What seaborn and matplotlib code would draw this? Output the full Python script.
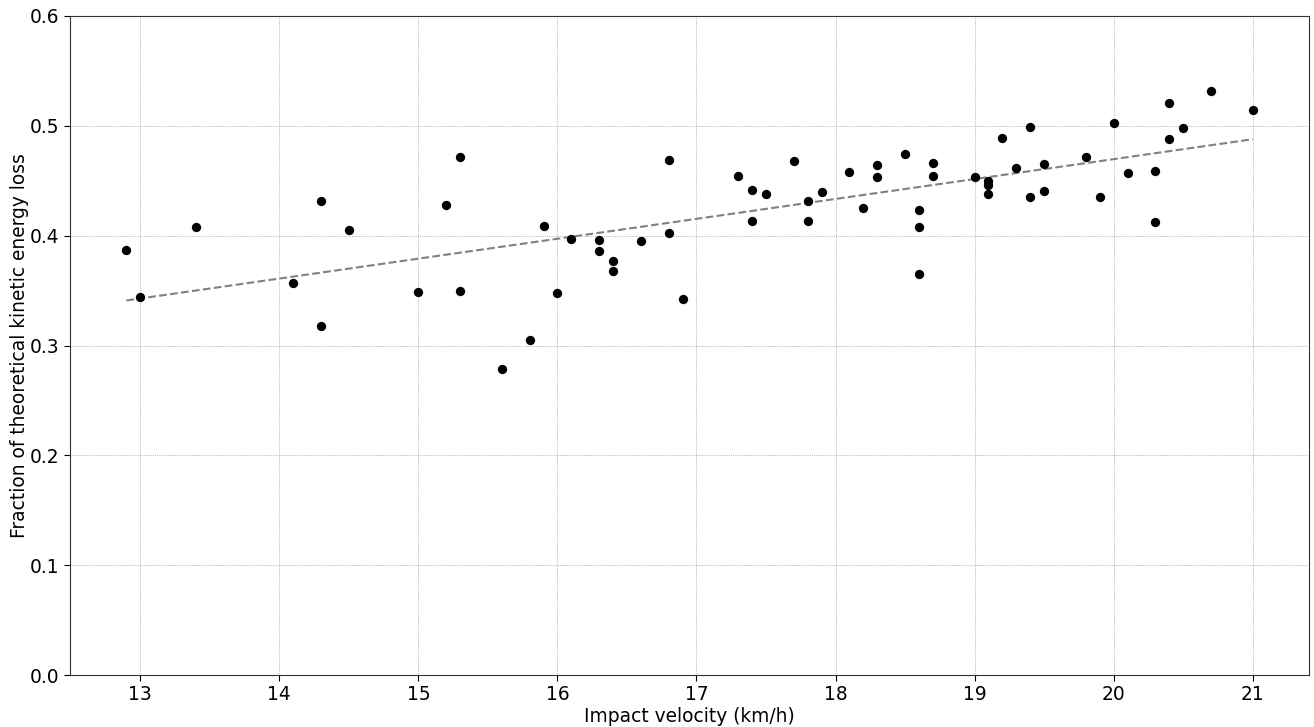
import matplotlib
matplotlib.use("Agg")
import matplotlib.pyplot as plt
import numpy as np
import pandas as pd
import seaborn as sns

# Impact velocity (km/h) and fraction of kinetic energy loss
velocity = [12.9, 13.0, 13.4, 14.1, 14.3, 14.3, 14.5, 15.0, 15.2, 15.3,
            15.3, 15.6, 15.8, 15.9, 16.0, 16.1, 16.3, 16.3, 16.4, 16.4,
            16.6, 16.8, 16.8, 16.9, 17.3, 17.4, 17.4, 17.5, 17.7, 17.8,
            17.8, 17.9, 18.1, 18.2, 18.3, 18.3, 18.5, 18.6, 18.6, 18.6,
            18.7, 18.7, 19.0, 19.1, 19.1, 19.1, 19.2, 19.3, 19.4, 19.4,
            19.5, 19.5, 19.8, 19.9, 20.0, 20.1, 20.3, 20.3, 20.4, 20.4,
            20.5, 20.7, 21.0]
energy_loss = [0.387, 0.344, 0.408, 0.357, 0.432, 0.318, 0.405, 0.349, 0.428, 0.472,
               0.350, 0.279, 0.305, 0.409, 0.348, 0.397, 0.396, 0.386, 0.377, 0.368,
               0.395, 0.469, 0.402, 0.342, 0.454, 0.442, 0.413, 0.438, 0.468, 0.432,
               0.413, 0.440, 0.458, 0.425, 0.464, 0.453, 0.474, 0.423, 0.408, 0.365,
               0.466, 0.454, 0.453, 0.450, 0.446, 0.438, 0.489, 0.462, 0.499, 0.435,
               0.465, 0.441, 0.472, 0.435, 0.503, 0.457, 0.459, 0.412, 0.521, 0.488,
               0.498, 0.532, 0.514]

df = pd.DataFrame({"velocity": velocity, "loss": energy_loss})

# Linear fit over the data range
slope, intercept = np.polyfit(df["velocity"], df["loss"], 1)
fit = pd.DataFrame({"velocity": [df["velocity"].min(), df["velocity"].max()]})
fit["loss"] = slope * fit["velocity"] + intercept

sns.set_style("white")
plt.rcParams["font.family"] = ["DejaVu Sans"]
plt.rcParams["text.color"] = "black"
plt.rcParams["axes.labelcolor"] = "black"
plt.rcParams["xtick.color"] = "black"
plt.rcParams["ytick.color"] = "black"

fig, ax = plt.subplots(figsize=(13.14, 7.27), dpi=100)
fig.subplots_adjust(left=0.0533, right=0.9962, top=0.978, bottom=0.0715)

ax.grid(True, linestyle=":", color="gray", linewidth=0.5)
ax.set_axisbelow(True)

sns.scatterplot(data=df, x="velocity", y="loss", color="black", s=45,
                edgecolor="black", linewidth=0, ax=ax, zorder=3)
sns.lineplot(data=fit, x="velocity", y="loss", color="gray", linestyle="--",
             linewidth=1.5, ax=ax, zorder=2)

ax.set_ylim(0, 0.6)
ax.set_yticks(np.arange(0, 0.61, 0.1))
ax.set_xlabel("Impact velocity (km/h)", fontsize=13.4, labelpad=2)
ax.set_ylabel("Fraction of theoretical kinetic energy loss", fontsize=13.4,
              labelpad=1)
ax.tick_params(axis="both", labelsize=13.4, direction="out", length=4,
               bottom=True, left=True)
for spine in ax.spines.values():
    spine.set_color("#333333")
    spine.set_linewidth(0.8)

fig.savefig("out.png", dpi=100)
